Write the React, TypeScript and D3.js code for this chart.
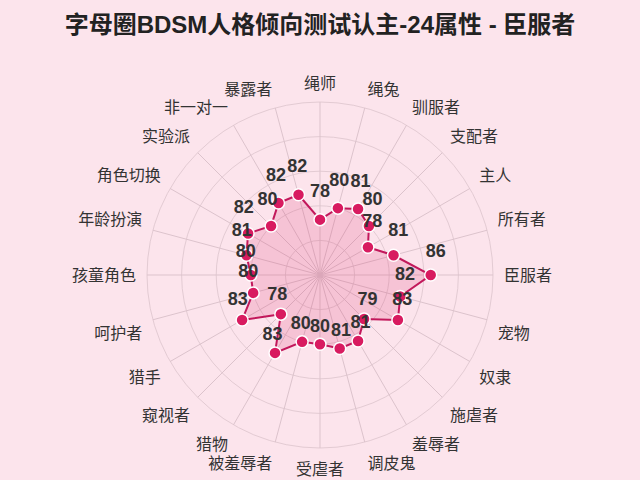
import * as d3 from "d3"

const title = "字母圈BDSM人格倾向测试认主-24属性 - 臣服者"

const attributes = [
  "绳师", "绳兔", "驯服者", "支配者", "主人", "所有者",
  "臣服者", "宠物", "奴隶", "施虐者", "羞辱者", "调皮鬼",
  "受虐者", "被羞辱者", "猎物", "窥视者", "猎手", "呵护者",
  "孩童角色", "年龄扮演", "角色切换", "实验派", "非一对一", "暴露者",
]

const scores = [
  78, 80, 81, 80, 78, 81,
  86, 82, 83, 79, 81, 81,
  80, 80, 83, 78, 83, 80,
  80, 81, 82, 80, 82, 82,
]

const ringValues = [75, 80, 85, 90, 95]

const W = 640
const H = 480
const cx = 320
const cy = 275
const outerR = 173

export default function App() {
  // radial scale, minimum value sits at the center
  const r = d3.scaleLinear().domain([70, 95]).range([0, outerR])
  const angle = (i: number) => (i * 2 * Math.PI) / attributes.length

  const dataPath =
    d3
      .lineRadial<number>()
      .angle((_, i) => angle(i))
      .radius((d) => r(d))
      .curve(d3.curveLinearClosed)(scores) || ""

  const pt = (i: number, rad: number) => {
    const a = angle(i)
    return [cx + rad * Math.sin(a), cy - rad * Math.cos(a)]
  }

  const fontStack = "'Liberation Sans', 'Noto Sans CJK SC', sans-serif"

  return (
    <svg
      width={W}
      height={H}
      style={{ position: "fixed", left: 0, top: 0, background: "#fce4ec" }}
      fontFamily={fontStack}
    >
      <rect width={W} height={H} fill="#fce4ec" />

      <text x={W / 2} y={33} textAnchor="middle" fontSize={24} fontWeight="bold" fill="#222">
        {title}
      </text>

      <g transform={`translate(${cx},${cy})`}>
        {ringValues.map((v) => (
          <circle key={v} r={r(v)} fill="none" stroke="#e3cbd3" strokeWidth={1} />
        ))}
        {attributes.map((_, i) => {
          const a = angle(i)
          return (
            <line
              key={i}
              x1={0}
              y1={0}
              x2={outerR * Math.sin(a)}
              y2={-outerR * Math.cos(a)}
              stroke="#dcc3cc"
              strokeWidth={1}
            />
          )
        })}
        <path d={dataPath} fill="rgba(216,27,96,0.16)" stroke="#c2185b" strokeWidth={2} />
      </g>

      {scores.map((s, i) => {
        const [x, y] = pt(i, r(s))
        return <circle key={i} cx={x} cy={y} r={6} fill="#d81b60" stroke="#fff" strokeWidth={1.5} />
      })}

      {scores.map((s, i) => {
        const [x, y] = pt(i, r(s))
        const a = angle(i)
        return (
          <text
            key={i}
            x={x + 5 * Math.sin(a)}
            y={y - 24 - 5 * Math.cos(a)}
            dy="0.36em"
            textAnchor="middle"
            fontSize={18}
            fontWeight="bold"
            fill="#333"
          >
            {s}
          </text>
        )
      })}

      {attributes.map((name, i) => {
        const a = angle(i)
        const [x, y] = pt(i, outerR + 11)
        const s = Math.sin(a)
        const c = Math.cos(a)
        const anchor = Math.abs(s) < 0.05 ? "middle" : s > 0 ? "start" : "end"
        const dy = c > 0.05 ? "-0.15em" : c < -0.05 ? "1em" : "0.35em"
        return (
          <text key={name} x={x} y={y} dy={dy} textAnchor={anchor} fontSize={16} fill="#333">
            {name}
          </text>
        )
      })}
    </svg>
  )
}
